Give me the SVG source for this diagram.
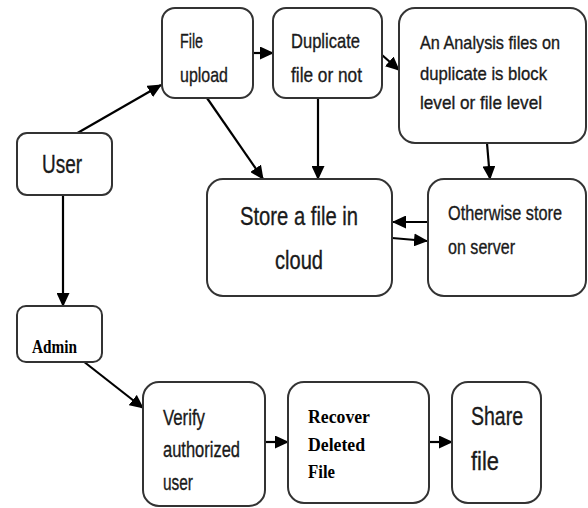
<svg xmlns="http://www.w3.org/2000/svg" width="588" height="508" viewBox="0 0 588 508">
<defs>
<marker id="ah" markerUnits="userSpaceOnUse" markerWidth="14" markerHeight="13" refX="13" refY="6.5" orient="auto">
<path d="M0,0 L14,6.5 L0,13 Z" fill="#000"/>
</marker>
<style>
.box{fill:#fff;stroke:#333;stroke-width:2}
.t{font-family:"Liberation Sans",Arial,sans-serif;fill:#1a1a1a;stroke:#1a1a1a;stroke-width:0.35}
.s{font-family:"Liberation Serif","Times New Roman",serif;font-weight:bold;fill:#000}
.c{stroke:#000;stroke-width:2.2;fill:none;marker-end:url(#ah)}
</style>
</defs>
<rect width="588" height="508" fill="#fff"/>
<g id="connectors">
<line class="c" x1="74" y1="135" x2="161" y2="85"/>
<line class="c" x1="253" y1="53" x2="273" y2="53"/>
<line class="c" x1="207" y1="98" x2="263" y2="179"/>
<line class="c" x1="382" y1="55" x2="399" y2="70"/>
<line class="c" x1="318" y1="98" x2="318" y2="179"/>
<line class="c" x1="487" y1="143" x2="490" y2="179"/>
<line class="c" x1="428" y1="222" x2="393" y2="222"/>
<line class="c" x1="392" y1="238" x2="427" y2="241"/>
<line class="c" x1="63" y1="195" x2="63" y2="306"/>
<line class="c" x1="83" y1="361" x2="143" y2="408"/>
<line class="c" x1="265" y1="442" x2="288" y2="442"/>
<line class="c" x1="429" y1="442" x2="452" y2="442"/>
</g>
<g id="file-upload">
<rect class="box" x="162" y="8" width="91" height="90" rx="13"/>
<text class="t" font-size="21" x="180" y="48" textLength="23" lengthAdjust="spacingAndGlyphs">File</text>
<text class="t" font-size="21" x="180" y="82" textLength="48" lengthAdjust="spacingAndGlyphs">upload</text>
</g>
<g id="duplicate">
<rect class="box" x="273" y="8" width="109" height="90" rx="13"/>
<text class="t" font-size="21" x="291" y="48" textLength="69" lengthAdjust="spacingAndGlyphs">Duplicate</text>
<text class="t" font-size="21" x="291" y="82" textLength="71" lengthAdjust="spacingAndGlyphs">file or not</text>
</g>
<g id="analysis">
<rect class="box" x="399" y="8" width="187" height="135" rx="16"/>
<text class="t" font-size="19" x="420" y="49" textLength="140" lengthAdjust="spacingAndGlyphs">An Analysis files on</text>
<text class="t" font-size="19" x="420" y="80" textLength="127" lengthAdjust="spacingAndGlyphs">duplicate is block</text>
<text class="t" font-size="19" x="420" y="109" textLength="122" lengthAdjust="spacingAndGlyphs">level or file level</text>
</g>
<g id="user">
<rect class="box" x="17" y="133" width="95" height="62" rx="10"/>
<text class="t" font-size="25" x="42" y="173" textLength="40" lengthAdjust="spacingAndGlyphs">User</text>
</g>
<g id="store-cloud">
<rect class="box" x="207" y="179" width="185" height="117" rx="16"/>
<text class="t" font-size="26" x="240" y="225" textLength="118" lengthAdjust="spacingAndGlyphs">Store a file in</text>
<text class="t" font-size="26" x="275" y="269" textLength="48" lengthAdjust="spacingAndGlyphs">cloud</text>
</g>
<g id="store-server">
<rect class="box" x="428" y="179" width="158" height="117" rx="16"/>
<text class="t" font-size="20" x="448" y="220" textLength="114" lengthAdjust="spacingAndGlyphs">Otherwise store</text>
<text class="t" font-size="20" x="448" y="254" textLength="67" lengthAdjust="spacingAndGlyphs">on server</text>
</g>
<g id="admin">
<rect class="box" x="17" y="306" width="85" height="56" rx="9"/>
<text class="s" font-size="18" x="32" y="353" textLength="45" lengthAdjust="spacingAndGlyphs">Admin</text>
</g>
<g id="verify">
<rect class="box" x="143" y="382" width="122" height="124" rx="16"/>
<text class="t" font-size="22" x="163" y="425" textLength="42" lengthAdjust="spacingAndGlyphs">Verify</text>
<text class="t" font-size="22" x="163" y="457" textLength="77" lengthAdjust="spacingAndGlyphs">authorized</text>
<text class="t" font-size="22" x="163" y="490" textLength="30" lengthAdjust="spacingAndGlyphs">user</text>
</g>
<g id="recover">
<rect class="box" x="288" y="382" width="141" height="121" rx="16"/>
<text class="s" font-size="18" x="308" y="423" textLength="62" lengthAdjust="spacingAndGlyphs">Recover</text>
<text class="s" font-size="18" x="308" y="451" textLength="57" lengthAdjust="spacingAndGlyphs">Deleted</text>
<text class="s" font-size="18" x="308" y="478" textLength="27" lengthAdjust="spacingAndGlyphs">File</text>
</g>
<g id="share">
<rect class="box" x="452" y="382" width="89" height="121" rx="16"/>
<text class="t" font-size="26" x="471" y="425" textLength="52" lengthAdjust="spacingAndGlyphs">Share</text>
<text class="t" font-size="26" x="471" y="470" textLength="28" lengthAdjust="spacingAndGlyphs">file</text>
</g>
</svg>
